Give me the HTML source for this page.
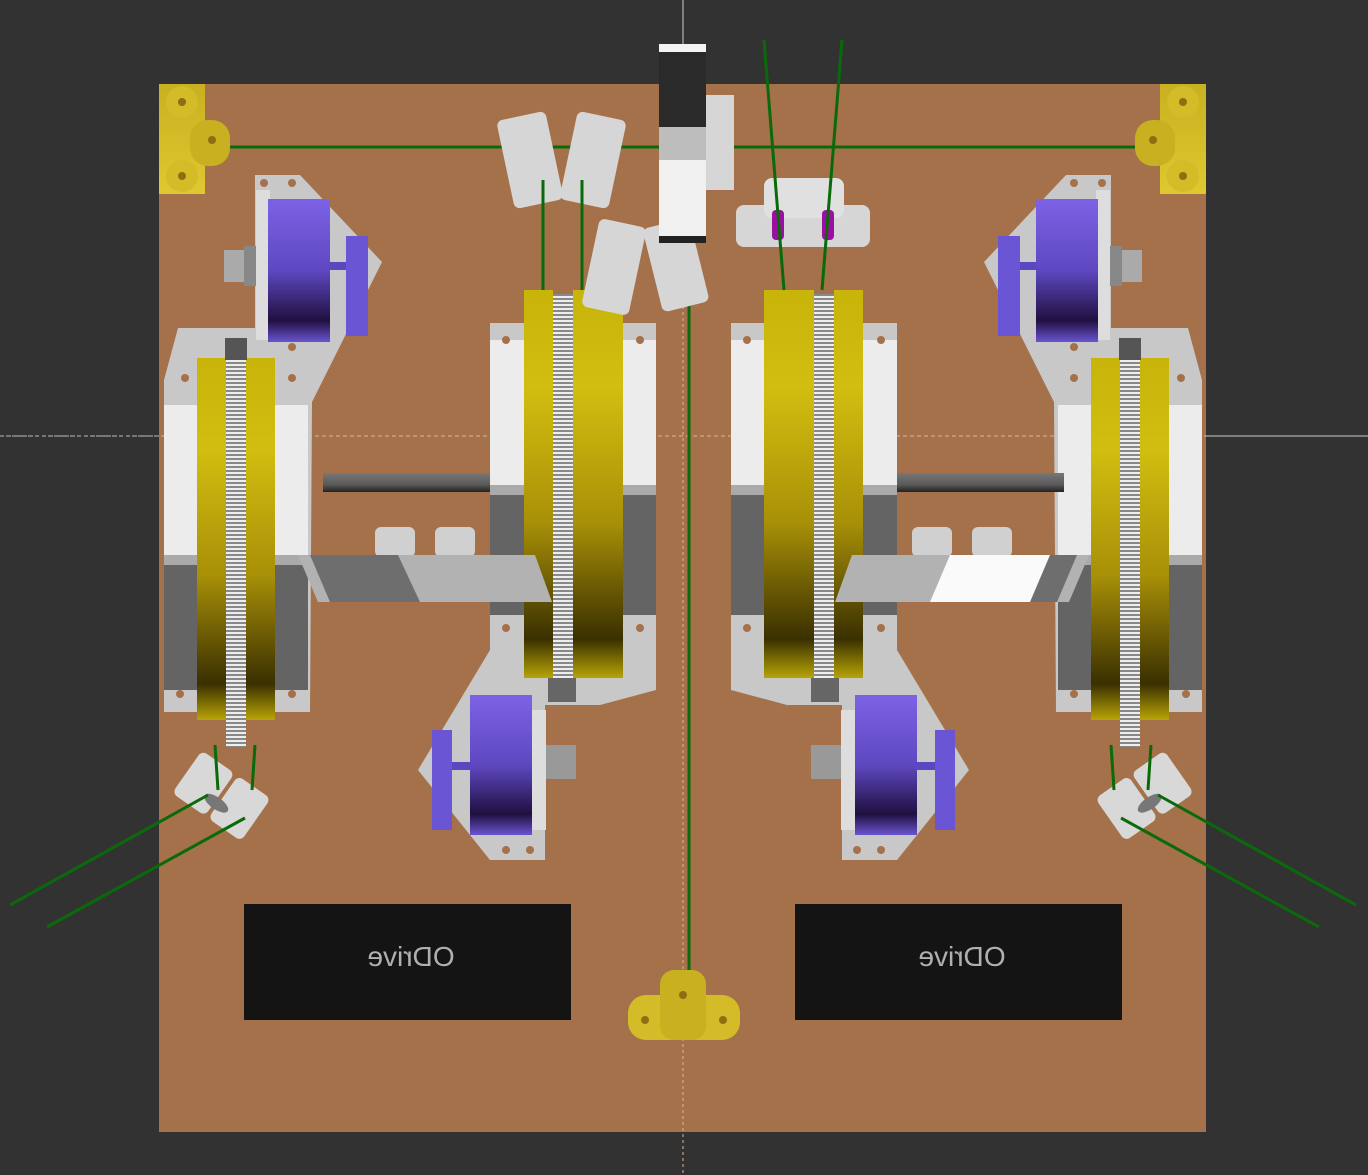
<!DOCTYPE html>
<html><head><meta charset="utf-8"><style>
html,body{margin:0;padding:0;background:#323232;}
svg{display:block;}
text{font-family:"Liberation Sans",sans-serif;}
</style></head><body>
<svg width="1368" height="1175" viewBox="0 0 1368 1175">
<defs>
<linearGradient id="yel" x1="0" y1="0" x2="0" y2="1">
<stop offset="0" stop-color="#c8b40a"/><stop offset="0.25" stop-color="#d2be10"/><stop offset="0.6" stop-color="#a89008"/><stop offset="0.9" stop-color="#3a3000"/><stop offset="1" stop-color="#b8a408"/></linearGradient>
<linearGradient id="pur" x1="0" y1="0" x2="0" y2="1">
<stop offset="0" stop-color="#7d62e6"/><stop offset="0.5" stop-color="#5e48c0"/><stop offset="0.85" stop-color="#201040"/><stop offset="1" stop-color="#6a54d0"/></linearGradient>
<linearGradient id="rod" x1="0" y1="0" x2="0" y2="1"><stop offset="0" stop-color="#777"/><stop offset="0.6" stop-color="#5a5a5a"/><stop offset="1" stop-color="#222"/></linearGradient>
<pattern id="belt" width="20" height="4" patternUnits="userSpaceOnUse"><rect width="20" height="4" fill="#eee"/><rect y="2" width="20" height="2" fill="#888"/></pattern>
<linearGradient id="ygold" x1="0" y1="0" x2="0" y2="1"><stop offset="0" stop-color="#c8b020"/><stop offset="1" stop-color="#e0c830"/></linearGradient>
<g id="assy-outer">
<polygon points="178,328 255,328 255,175 300,175 382,262 312,402 310,712 164,712 164,380" fill="#c8c8c8"/>
<rect x="164" y="405" width="144" height="150" fill="#ececec"/>
<rect x="164" y="555" width="144" height="10" fill="#aaa"/>
<rect x="164" y="565" width="144" height="125" fill="#646464"/>
<rect x="197" y="358" width="29" height="362" fill="url(#yel)"/>
<rect x="246" y="358" width="29" height="362" fill="url(#yel)"/>
<rect x="226" y="352" width="20" height="395" fill="url(#belt)"/>
<rect x="225" y="338" width="22" height="22" fill="#555"/>
<rect x="224" y="250" width="20" height="32" fill="#aaa"/>
<rect x="244" y="246" width="24" height="40" fill="#888"/>
<rect x="256" y="190" width="14" height="150" fill="#ddd"/>
<rect x="268" y="199" width="62" height="143" fill="url(#pur)"/>
<rect x="330" y="262" width="18" height="8" fill="#5a48c0"/>
<rect x="346" y="236" width="22" height="100" fill="#6a56d4"/>
<circle cx="185" cy="378" r="4" fill="#a5714a"/><circle cx="292" cy="378" r="4" fill="#a5714a"/>
<circle cx="180" cy="694" r="4" fill="#a5714a"/><circle cx="292" cy="694" r="4" fill="#a5714a"/>
<circle cx="264" cy="183" r="4" fill="#a5714a"/><circle cx="292" cy="183" r="4" fill="#a5714a"/>
<circle cx="292" cy="347" r="4" fill="#a5714a"/>
</g>
<g id="assy-inner">
<polygon points="490,323 656,323 656,690 600,705 545,705 545,860 490,860 418,770 490,650" fill="#c8c8c8"/>
<rect x="490" y="340" width="166" height="145" fill="#ececec"/>
<rect x="490" y="485" width="166" height="10" fill="#aaa"/>
<rect x="490" y="495" width="166" height="120" fill="#646464"/>
<rect x="524" y="290" width="29" height="388" fill="url(#yel)"/>
<rect x="573" y="290" width="50" height="388" fill="url(#yel)"/>
<rect x="553" y="294" width="20" height="386" fill="url(#belt)"/>
<rect x="548" y="678" width="28" height="24" fill="#666"/>
<rect x="540" y="745" width="36" height="34" fill="#999"/>
<rect x="532" y="710" width="14" height="120" fill="#ddd"/>
<rect x="470" y="695" width="62" height="140" fill="url(#pur)"/>
<rect x="452" y="762" width="20" height="8" fill="#5a48c0"/>
<rect x="432" y="730" width="20" height="100" fill="#6a56d4"/>
<rect x="323" y="473" width="167" height="19" fill="url(#rod)"/>
<rect x="375" y="527" width="40" height="30" rx="6" fill="#d0d0d0"/>
<rect x="435" y="527" width="40" height="30" rx="6" fill="#d0d0d0"/>
<polygon points="298,555 535,555 552,602 318,602" fill="#b2b2b2"/>
<polygon points="310,555 398,555 420,602 330,602" fill="#6e6e6e"/>
<circle cx="506" cy="340" r="4" fill="#a5714a"/><circle cx="640" cy="340" r="4" fill="#a5714a"/>
<circle cx="506" cy="628" r="4" fill="#a5714a"/><circle cx="640" cy="628" r="4" fill="#a5714a"/>
<circle cx="506" cy="850" r="4" fill="#a5714a"/><circle cx="530" cy="850" r="4" fill="#a5714a"/>
</g>
<g id="corner-mount">
<rect x="159" y="84" width="46" height="110" fill="url(#ygold)"/>
<circle cx="182" cy="102" r="16" fill="#d4bc28"/><circle cx="182" cy="176" r="16" fill="#d4bc28"/>
<rect x="190" y="120" width="40" height="46" rx="18" fill="#c8b020"/>
<circle cx="182" cy="102" r="4" fill="#8a7010"/><circle cx="182" cy="176" r="4" fill="#8a7010"/><circle cx="212" cy="140" r="4" fill="#8a7010"/>
</g>
<g id="lower-clamp">
<g transform="rotate(35 222 795)">
<rect x="180" y="770" width="40" height="52" rx="6" fill="#d8d8d8"/>
<rect x="224" y="770" width="40" height="52" rx="6" fill="#d8d8d8"/>
<ellipse cx="222" cy="805" rx="14" ry="6" fill="#777"/>
</g>
<line x1="10" y1="905" x2="208" y2="795" stroke="#0a6a0a" stroke-width="3"/>
<line x1="47" y1="927" x2="245" y2="818" stroke="#0a6a0a" stroke-width="3"/>
<line x1="215" y1="745" x2="218" y2="790" stroke="#0a6a0a" stroke-width="3"/>
<line x1="255" y1="745" x2="252" y2="790" stroke="#0a6a0a" stroke-width="3"/>
</g>
</defs>

<rect x="159" y="84" width="1047" height="1048" fill="#a5714a"/>
<line x1="683" y1="0" x2="683" y2="84" stroke="#ccc" stroke-width="1"/>
<line x1="683" y1="84" x2="683" y2="1175" stroke="#d8b89a" stroke-width="1" stroke-dasharray="3,3"/>
<line x1="0" y1="436" x2="1368" y2="436" stroke="#d8b89a" stroke-width="1" stroke-dasharray="4,3"/>
<line x1="0" y1="436" x2="159" y2="436" stroke="#bbb" stroke-width="1" stroke-dasharray="3,3"/>
<line x1="1206" y1="436" x2="1368" y2="436" stroke="#ccc" stroke-width="1"/>

<line x1="165" y1="147" x2="1200" y2="147" stroke="#0a6a0a" stroke-width="3"/>
<line x1="689" y1="280" x2="689" y2="1000" stroke="#0a6a0a" stroke-width="3"/>

<use href="#corner-mount"/>
<use href="#corner-mount" transform="translate(1365,0) scale(-1,1)"/>
<g>
<rect x="628" y="995" width="112" height="45" rx="18" fill="#d4bc28"/>
<rect x="660" y="970" width="46" height="70" rx="14" fill="#c8b020"/>
<circle cx="645" cy="1020" r="4" fill="#8a7010"/><circle cx="723" cy="1020" r="4" fill="#8a7010"/><circle cx="683" cy="995" r="4" fill="#8a7010"/>
</g>

<use href="#assy-outer"/>
<use href="#assy-inner"/>
<use href="#assy-outer" transform="translate(1366,0) scale(-1,1)"/>
<use href="#assy-inner" transform="translate(1387,0) scale(-1,1)"/>
<polygon points="950,555 1050,555 1030,602 930,602" fill="#fafafa"/>
<use href="#lower-clamp"/>
<use href="#lower-clamp" transform="translate(1366,0) scale(-1,1)"/>

<g>
<rect x="505" y="115" width="50" height="90" rx="6" fill="#d6d6d6" transform="rotate(-12 530 160)"/>
<rect x="568" y="115" width="50" height="90" rx="6" fill="#d6d6d6" transform="rotate(12 593 160)"/>
<rect x="590" y="222" width="48" height="90" rx="6" fill="#d6d6d6" transform="rotate(12 614 267)"/>
<rect x="652" y="222" width="48" height="86" rx="6" fill="#d6d6d6" transform="rotate(-14 676 265)"/>
<line x1="543" y1="180" x2="543" y2="290" stroke="#0a6a0a" stroke-width="3"/>
<line x1="582" y1="180" x2="582" y2="290" stroke="#0a6a0a" stroke-width="3"/>
<rect x="706" y="95" width="28" height="95" fill="#d6d6d6"/>
<rect x="659" y="44" width="47" height="8" fill="#f4f4f4"/>
<rect x="659" y="52" width="47" height="75" fill="#2a2a2a"/>
<rect x="659" y="127" width="47" height="33" fill="#bdbdbd"/>
<rect x="659" y="160" width="47" height="76" fill="#f0f0f0"/>
<rect x="659" y="236" width="47" height="7" fill="#222"/>
<rect x="736" y="205" width="134" height="42" rx="8" fill="#d6d6d6"/>
<rect x="764" y="178" width="80" height="40" rx="8" fill="#e0e0e0"/>
<rect x="772" y="210" width="12" height="30" rx="4" fill="#9a10a0"/>
<rect x="822" y="210" width="12" height="30" rx="4" fill="#9a10a0"/>
<line x1="764" y1="40" x2="784" y2="290" stroke="#0a6a0a" stroke-width="3"/>
<line x1="842" y1="40" x2="822" y2="290" stroke="#0a6a0a" stroke-width="3"/>
</g>

<g>
<rect x="244" y="904" width="327" height="116" fill="#141414"/>
<text x="411" y="966" font-size="28" fill="#b0b0b0" text-anchor="middle" transform="translate(822,0) scale(-1,1)">ODrive</text>
</g>
<g>
<rect x="795" y="904" width="327" height="116" fill="#141414"/>
<text x="962" y="966" font-size="28" fill="#b0b0b0" text-anchor="middle" transform="translate(1924,0) scale(-1,1)">ODrive</text>
</g>
</svg>
</body></html>
